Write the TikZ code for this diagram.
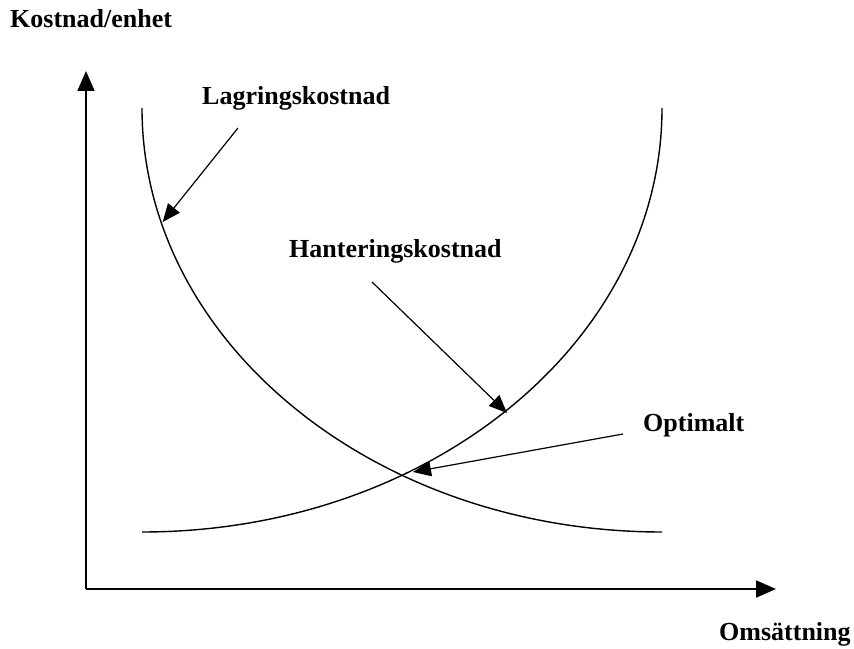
\documentclass[tikz,border=0pt]{standalone}
\usepackage{fontspec}
\setmainfont{Liberation Serif}
\usetikzlibrary{arrows.meta}
\begin{document}
\begin{tikzpicture}[x=1pt,y=1pt,
  lbl/.style={anchor=base west,inner sep=0pt,font=\fontsize{26}{31}\selectfont\bfseries},
  axis/.style={line width=1.8pt,-{Triangle[length=20pt,width=17pt]}},
  costcurve/.style={line width=1.4pt},
  pointer/.style={line width=1.2pt,-{Triangle[length=18pt,width=15pt]}}]
\useasboundingbox (0,0) rectangle (854,648);
% axes
\coordinate (origin) at (86,59);
\coordinate (ytip) at (86,577);
\coordinate (xtip) at (776,59);
\draw[axis] (origin) -- (ytip);
\draw[axis] (origin) -- (xtip);
% cost curves (quarter ellipses)
\draw[costcurve] (142,540) arc[start angle=180,end angle=270,x radius=520,y radius=424];
\draw[costcurve] (142,116) arc[start angle=270,end angle=360,x radius=520,y radius=424];
% labels
\node[lbl] (ylabel) at (10,620) {Kostnad/enhet};
\node[lbl] (xlabel) at (719,8) {Omsättning};
\node[lbl] (lager) at (202,543) {Lagringskostnad};
\node[lbl] (hantering) at (289,390) {Hanteringskostnad};
\node[lbl] (optimal) at (643,216) {Optimalt};
% pointer arrows
\coordinate (lagerfrom) at (238,520);
\coordinate (lagerto) at (162.7,426);
\coordinate (hantfrom) at (372,366);
\coordinate (hantto) at (507,235);
\coordinate (optfrom) at (623,214);
\coordinate (optto) at (413,176);
\draw[pointer] (lagerfrom) -- (lagerto);
\draw[pointer] (hantfrom) -- (hantto);
\draw[pointer] (optfrom) -- (optto);
\end{tikzpicture}
\end{document}
